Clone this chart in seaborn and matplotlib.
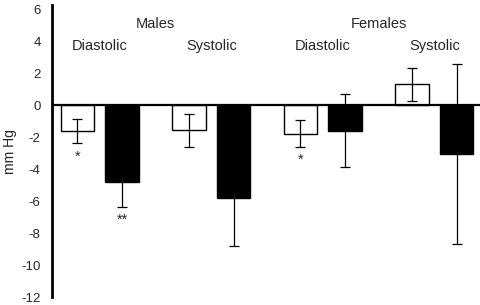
import matplotlib
matplotlib.use("Agg")
import matplotlib.pyplot as plt
import seaborn as sns
import pandas as pd
import numpy as np

# ---- data ----
categories = ["Males Diastolic", "Males Systolic", "Females Diastolic", "Females Systolic"]
sex_labels = ["Males", "Females"]
measure_labels = ["Diastolic", "Systolic", "Diastolic", "Systolic"]
series_names = ["Series 1", "Series 2"]
values_white = [-1.63, -1.58, -1.78, 1.30]
errors_white = [0.77, 1.02, 0.83, 1.02]
values_black = [-4.84, -5.81, -1.61, -3.08]
errors_black = [1.53, 3.02, 2.28, 5.62]
yticks = [6, 4, 2, 0, -2, -4, -6, -8, -10, -12]
stars = [("*", 0, 0, -3.26), ("**", 0, 1, -7.16), ("*", 2, 0, -3.4)]

df = pd.DataFrame({
    "category": categories * 2,
    "series": [series_names[0]] * 4 + [series_names[1]] * 4,
    "value": values_white + values_black,
    "err": errors_white + errors_black,
})

sns.set_style("white")
plt.rcParams["font.family"] = ["Liberation Sans", "DejaVu Sans"]

fig = plt.figure(figsize=(4.8, 3.05), dpi=100)
ax = fig.add_axes([0.108, 0.0262, 0.892, 0.957])

sns.barplot(data=df, x="category", y="value", hue="series", order=categories,
            hue_order=series_names, palette=["white", "black"], edgecolor="black",
            linewidth=1.0, width=0.8, gap=0.25, errorbar=None, legend=False, ax=ax)

# error bars at bar centres
for patch, (_, row) in zip(ax.patches, df.iterrows()):
    xc = patch.get_x() + patch.get_width() / 2
    ax.errorbar(xc, row["value"], yerr=row["err"], color="black", lw=0.9,
                capsize=3.5, capthick=0.9, fmt="none", zorder=3)

ax.axhline(0, color="black", lw=1.6, zorder=4)

ax.set_ylim(-12.0, 6.25)
ax.set_xlim(-0.43, 3.41)
ax.set_yticks(yticks)
ax.set_yticklabels([str(t) for t in yticks], fontsize=9.5)
ax.tick_params(axis="y", length=0, pad=8)
ax.set_xticks([])
ax.set_xlabel("")
ax.set_ylabel("mm Hg", fontsize=10, labelpad=3)

for s in ["top", "right", "bottom"]:
    ax.spines[s].set_visible(False)
ax.spines["left"].set_linewidth(2.0)
ax.spines["left"].set_color("black")

for i, lab in enumerate(measure_labels):
    ax.text(i, 3.7, lab, ha="center", va="center", fontsize=10.5)
for j, lab in enumerate(sex_labels):
    ax.text(2 * j + 0.5, 5.05, lab, ha="center", va="center", fontsize=10.5)

for txt, ci, hi, yv in stars:
    xc = ci + (-0.2 if hi == 0 else 0.2)
    ax.text(xc, yv, txt, ha="center", va="center", fontsize=10.5)

fig.savefig("out.png", dpi=100)
